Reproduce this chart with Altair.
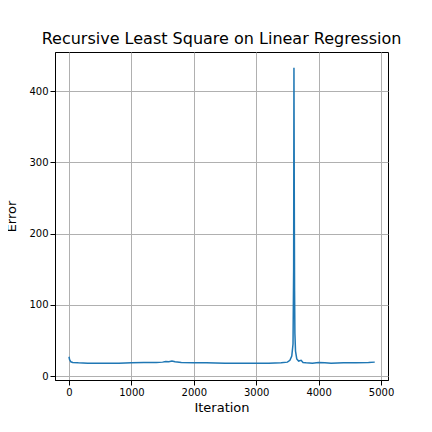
import altair as alt
import pandas as pd

iteration = [0, 10, 30, 60, 150, 300, 500, 800, 1000, 1200, 1400, 1500, 1550, 1600, 1650, 1700,
             1800, 2000, 2200, 2500, 2800, 3000, 3200, 3400, 3500, 3540, 3570, 3590, 3600, 3605,
             3610, 3615, 3620, 3630, 3650, 3680, 3720, 3750, 3800, 3900, 4000, 4100, 4200,
             4400, 4600, 4800, 4900]
error = [27, 23, 20, 19, 18.5, 18, 18, 18, 18.5, 19, 19, 19.5, 20.5, 20, 21, 20,
         19, 18.5, 18.5, 18, 18, 18, 18, 18.5, 19.5, 22, 28, 45, 150, 433,
         260, 120, 60, 35, 24, 21, 22, 19, 18.5, 18, 19, 18.5, 18,
         18.5, 18.5, 19, 19.5]

df = pd.DataFrame({"Iteration": iteration, "Error": error})

chart = alt.Chart(df).mark_line(color="#1f77b4", strokeWidth=1.5).encode(
    x=alt.X("Iteration:Q", scale=alt.Scale(domain=[-224, 5112], nice=False),
            axis=alt.Axis(values=[0, 1000, 2000, 3000, 4000, 5000], format="d", titlePadding=4)),
    y=alt.Y("Error:Q", scale=alt.Scale(domain=[-5.6, 455], nice=False),
            axis=alt.Axis(values=[0, 100, 200, 300, 400], format="d", titlePadding=10)),
).properties(
    width=333, height=328,
    autosize=alt.AutoSizeParams(type="none"),
    padding={"left": 47, "top": 44, "right": 36, "bottom": 44},
    title=alt.Title("Recursive Least Square on Linear Regression", fontSize=16,
                    fontWeight="normal", color="black", font="DejaVu Sans", offset=5),
).configure_axis(
    labelFont="DejaVu Sans", titleFont="DejaVu Sans", labelFontSize=10, titleFontSize=13,
    titleFontWeight="normal", labelColor="black", titleColor="black",
    gridColor="#b0b0b0", domainColor="black", tickColor="black",
).configure_view(stroke="black")

chart.save("out.html", embed_options={"renderer": "svg", "actions": False})
